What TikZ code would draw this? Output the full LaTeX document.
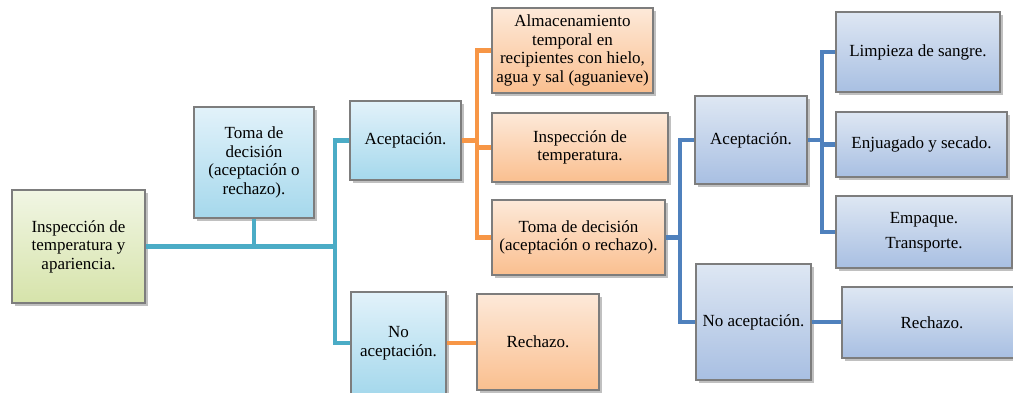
\documentclass[tikz,border=0pt]{standalone}
\usepackage{fontspec}
\setmainfont{Liberation Serif}
\usetikzlibrary{shadows}
\definecolor{tealc}{RGB}{75,172,198}
\definecolor{orangec}{RGB}{247,150,70}
\definecolor{bluec}{RGB}{79,129,189}
\definecolor{lbtop}{RGB}{226,242,250}
\definecolor{lbbot}{RGB}{165,216,236}
\definecolor{ortop}{RGB}{253,233,217}
\definecolor{orbot}{RGB}{250,191,143}
\definecolor{grtop}{RGB}{241,246,228}
\definecolor{grbot}{RGB}{214,227,170}
\definecolor{sbtop}{RGB}{222,231,243}
\definecolor{sbbot}{RGB}{168,191,226}
\definecolor{bordc}{RGB}{125,125,125}
\tikzset{
  box/.style={draw=bordc, line width=1.3pt, inner sep=0pt, align=center,
    font=\fontsize{17}{18.5}\selectfont,
    drop shadow={shadow xshift=2.5pt, shadow yshift=-3pt, opacity=0.35, fill=black!70}},
  greenbox/.style={box, top color=grtop, bottom color=grbot},
  lbbox/.style={box, top color=lbtop, bottom color=lbbot},
  orbox/.style={box, top color=ortop, bottom color=orbot},
  sbbox/.style={box, top color=sbtop, bottom color=sbbot},
  conn/.style={line width=4.5pt, line join=miter},
  tline/.style={conn, draw=tealc},
  oline/.style={conn, draw=orangec},
  bline/.style={conn, draw=bluec},
}
\begin{document}
\begin{tikzpicture}[x=1pt,y=-1pt]
\clip (0,0) rectangle (1013,392);
\fill[white] (0,0) rectangle (1013,392);
% coordinates of the vertical trunks
\coordinate (t1) at (335,0);
\coordinate (o1) at (477,0);
\coordinate (b1) at (680,0);
\coordinate (b2) at (822,0);
% nodes
\node[greenbox, minimum width=133pt, minimum height=113pt] (in1) at (78.5,246.5) {Inspección de\\temperatura y\\apariencia.};
\node[lbbox, minimum width=120pt, minimum height=111pt] (td1) at (254,162.5) {Toma de\\decisión\\(aceptación o\\rechazo).};
\node[lbbox, minimum width=111pt, minimum height=79pt] (ac1) at (405.5,140.5) {Aceptación.};
\node[lbbox, minimum width=95pt, minimum height=102pt] (na1) at (398.5,343) {No\\aceptación.};
\node[orbox, minimum width=122pt, minimum height=96pt] (re1) at (538,342) {Rechazo.};
\node[orbox, minimum width=161pt, minimum height=85pt] (alm) at (572.5,50.5) {Almacenamiento\\temporal en\\recipientes con hielo,\\agua y sal (aguanieve)};
\node[orbox, minimum width=176pt, minimum height=69pt] (ins) at (580,147.5) {Inspección de\\temperatura.};
\node[orbox, minimum width=173pt, minimum height=75pt] (td2) at (578.5,237.5) {Toma de decisión\\(aceptación o rechazo).};
\node[sbbox, minimum width=112pt, minimum height=88pt] (ac2) at (751,140) {Aceptación.};
\node[sbbox, minimum width=115pt, minimum height=116pt] (na2) at (753.5,322) {No aceptación.};
\node[sbbox, minimum width=164pt, minimum height=80pt] (lim) at (918,52) {Limpieza de sangre.};
\node[sbbox, minimum width=171pt, minimum height=65pt] (enj) at (921.5,144.5) {Enjuagado y secado.};
\node[sbbox, minimum width=176pt, minimum height=72pt, font=\fontsize{17}{25}\selectfont] (emp) at (924,232) {Empaque.\\Transporte.};
\node[sbbox, minimum width=180pt, minimum height=71pt] (re2) at (932,322.5) {Rechazo.};
% teal connectors
\draw[tline] (in1.east) -- (in1.east -| t1);
\draw[tline] (td1.south) -- (td1.south |- in1.east);
\draw[tline] (ac1.west) -- (ac1.west -| t1) -- (na1.west -| t1) -- (na1.west);
% orange connectors
\draw[oline] (ac1.east) -- (ac1.east -| o1);
\draw[oline] (alm.west) -- (alm.west -| o1) -- (td2.west -| o1) -- (td2.west);
\draw[oline] (ins.west) -- (ins.west -| o1);
\draw[oline] (na1.east) -- (na1.east -| re1.west);
% blue connectors
\draw[bline] (td2.east) -- (td2.east -| b1);
\draw[bline] (ac2.west) -- (ac2.west -| b1) -- (na2.west -| b1) -- (na2.west);
\draw[bline] (ac2.east) -- (ac2.east -| b2);
\draw[bline] (lim.west) -- (lim.west -| b2) -- (emp.west -| b2) -- (emp.west);
\draw[bline] (enj.west) -- (enj.west -| b2);
\draw[bline] (na2.east) -- (na2.east -| re2.west);
\end{tikzpicture}
\end{document}
